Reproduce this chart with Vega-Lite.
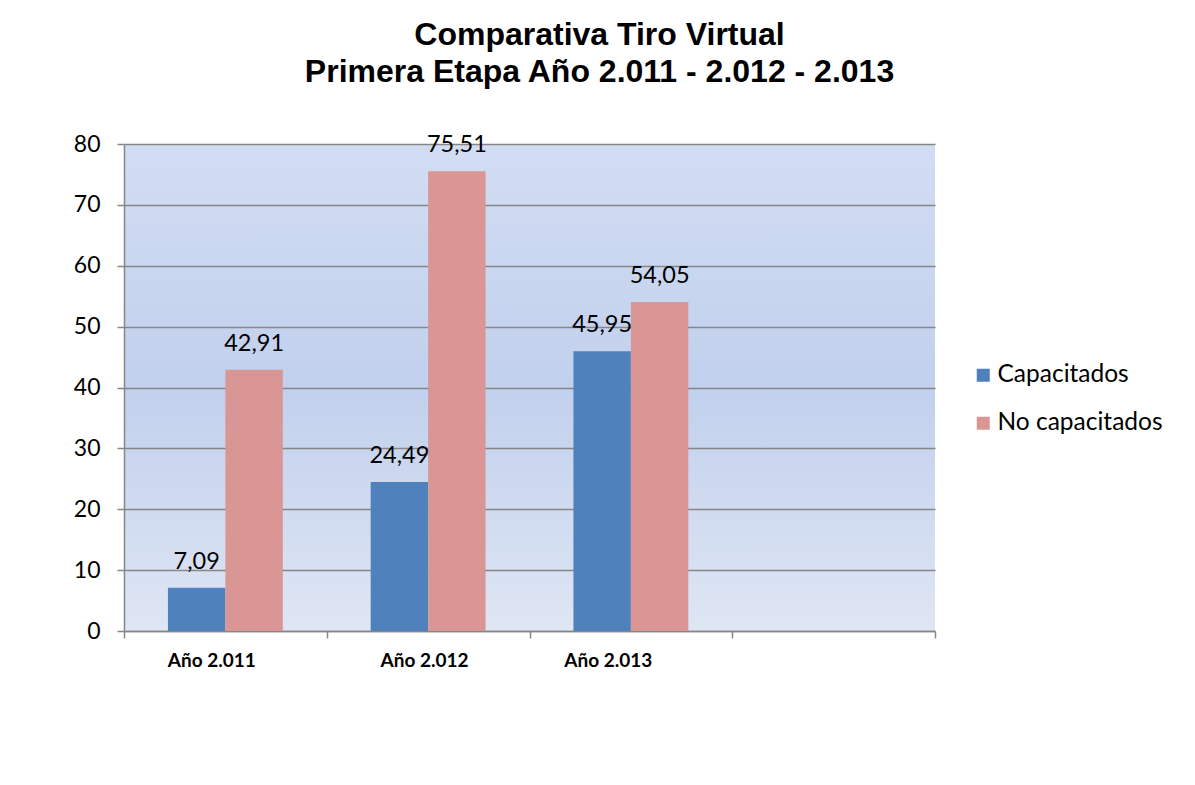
{
  "$schema": "https://vega.github.io/schema/vega-lite/v6.json",
  "width": 811,
  "height": 487,
  "autosize": {"type": "none"},
  "padding": {"left": 124, "top": 144, "right": 260, "bottom": 154},
  "background": "white",
  "title": {
    "text": ["Comparativa Tiro Virtual", "Primera Etapa Año 2.011 - 2.012 - 2.013"],
    "font": "Liberation Sans",
    "fontSize": 32,
    "fontWeight": "bold",
    "color": "black",
    "anchor": "middle",
    "frame": "group",
    "dx": 70,
    "lineHeight": 37,
    "offset": 44
  },
  "data": {
    "values": [
      {"anio": "Año 2.011", "serie": "Capacitados", "valor": 7.09},
      {"anio": "Año 2.011", "serie": "No capacitados", "valor": 42.91},
      {"anio": "Año 2.012", "serie": "Capacitados", "valor": 24.49},
      {"anio": "Año 2.012", "serie": "No capacitados", "valor": 75.51},
      {"anio": "Año 2.013", "serie": "Capacitados", "valor": 45.95},
      {"anio": "Año 2.013", "serie": "No capacitados", "valor": 54.05}
    ]
  },
  "encoding": {
    "x": {
      "field": "anio",
      "type": "nominal",
      "scale": {"domain": ["Año 2.011", "Año 2.012", "Año 2.013", " "], "paddingInner": 0, "paddingOuter": 0},
      "axis": {
        "title": null,
        "labelAngle": 0,
        "labelFont": "Lato",
        "labelFontSize": 19,
        "labelFontWeight": "bold",
        "labelColor": "black",
        "labelPadding": 13,
        "labelOffset": {"expr": "datum.value == 'Año 2.011' ? -14 : datum.value == 'Año 2.012' ? -4 : -23"},
        "domainColor": "#868686",
        "domainWidth": 1.5,
        "tickColor": "#868686",
        "tickWidth": 1.5,
        "tickSize": 7,
        "tickBand": "extent",
        "grid": false
      }
    },
    "xOffset": {
      "field": "serie",
      "type": "nominal",
      "scale": {"domain": ["Capacitados", "No capacitados"], "paddingInner": 0, "paddingOuter": 0.765}
    },
    "y": {
      "field": "valor",
      "type": "quantitative",
      "scale": {"domain": [0, 80], "nice": false},
      "axis": {
        "title": null,
        "values": [0, 10, 20, 30, 40, 50, 60, 70, 80],
        "labelFont": "Lato",
        "labelFontSize": 23,
        "labelColor": "black",
        "labelPadding": 17,
        "domainColor": "#868686",
        "domainWidth": 1.5,
        "tickColor": "#868686",
        "tickWidth": 1.5,
        "tickSize": 7,
        "grid": true,
        "gridColor": "#868686",
        "gridWidth": 1.5
      }
    }
  },
  "layer": [
    {
      "mark": {"type": "bar"},
      "encoding": {
        "color": {
          "field": "serie",
          "type": "nominal",
          "scale": {"domain": ["Capacitados", "No capacitados"], "range": ["#4f81bd", "#d99694"]},
          "legend": {
            "title": null,
            "orient": "none",
            "legendX": 847,
            "legendY": 219,
            "symbolType": "square",
            "symbolSize": 169,
            "symbolStrokeWidth": 0,
            "labelFont": "Lato",
            "labelFontSize": 24.5,
            "labelColor": "black",
            "labelOffset": 2,
            "labelLimit": 0,
            "rowPadding": 23
          }
        }
      }
    },
    {
      "mark": {"type": "text", "baseline": "alphabetic", "dy": -19, "font": "Lato", "fontSize": 23.5, "color": "black"},
      "encoding": {
        "text": {"field": "valor", "type": "quantitative", "format": ".2f"}
      }
    }
  ],
  "config": {
    "locale": {"number": {"decimal": ",", "thousands": ".", "grouping": [3], "currency": ["", " €"]}},
    "view": {
      "stroke": null,
      "fill": {
        "gradient": "linear",
        "x1": 0, "y1": 0, "x2": 0, "y2": 1,
        "stops": [
          {"offset": 0, "color": "#d2ddf3"},
          {"offset": 0.5, "color": "#c1d0ed"},
          {"offset": 1, "color": "#dfe6f4"}
        ]
      }
    }
  }
}
